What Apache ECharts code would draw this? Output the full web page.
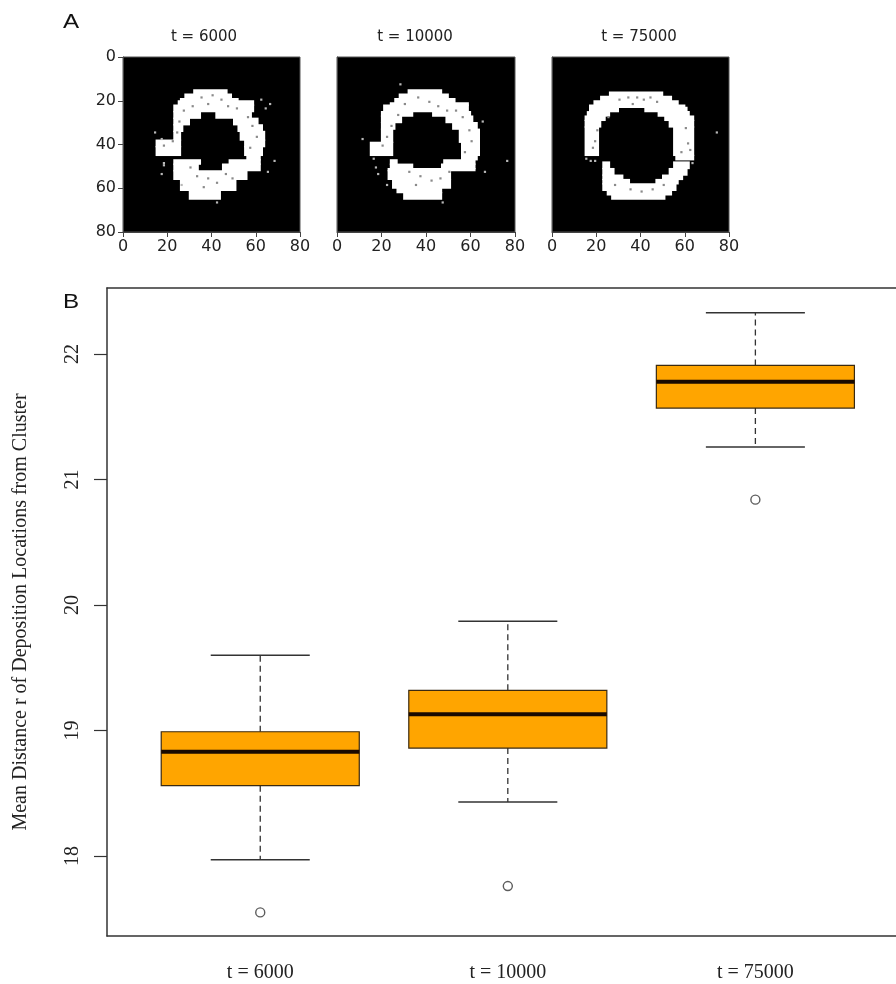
<!DOCTYPE html>
<html>
<head>
<meta charset="utf-8">
<script src="https://cdn.jsdelivr.net/npm/echarts@6/dist/echarts.min.js"></script>
<style>
html,body{margin:0;padding:0;background:#fff;}
#chart{width:896px;height:984px;}
</style>
</head>
<body>
<div id="chart"></div>
<script>
// ---------------- Panel B data ----------------
const categories = ['t = 6000', 't = 10000', 't = 75000'];
const boxPositions = [1, 2, 3];
const lowerWhisker = [17.97, 18.43, 21.26];
const q1 = [18.56, 18.86, 21.57];
const median = [18.83, 19.13, 21.78];
const q3 = [18.99, 19.32, 21.91];
const upperWhisker = [19.60, 19.87, 22.33];
const outliers = [17.55, 17.76, 20.84];
const yTicks = [18, 19, 20, 21, 22];
const yName = 'Mean Distance r of Deposition Locations from Cluster';

// ---------------- Panel A data ----------------
const panelTitles = ['t = 6000', 't = 10000', 't = 75000'];
const imageTicks = [0, 20, 40, 60, 80];
// white bands: [rowStart, rowEnd, [[colStart, colEnd], ...]]
const ring6000 = [
  [15, 17, [[32, 47]]],
  [17, 19, [[28, 49]]],
  [19, 20, [[26, 52]]],
  [20, 22, [[25, 59]]],
  [22, 25, [[23, 59]]],
  [25, 28, [[23, 35], [42, 58]]],
  [28, 31, [[23, 30], [50, 61]]],
  [31, 34, [[23, 27], [52, 63]]],
  [34, 38, [[23, 26], [53, 64]]],
  [38, 41, [[15, 26], [55, 64]]],
  [41, 45, [[15, 26], [55, 63]]],
  [45, 47, [[56, 62]]],
  [47, 49, [[23, 35], [48, 62]]],
  [49, 52, [[23, 34], [45, 62]]],
  [52, 56, [[23, 56]]],
  [56, 61, [[26, 51]]],
  [61, 65, [[30, 44]]]
];
const dark6000 = [[35,18],[40,17],[44,19],[38,21],[31,22],[27,24],[25,29],[24,34],[22,38],[18,40],[47,22],[51,23],[56,27],[58,31],[60,36],[57,41],[30,50],[33,54],[38,55],[42,57],[46,53],[49,55],[36,59]];
const light6000 = [[62,19],[64,23],[66,21],[14,34],[17,37],[18,48],[18,49],[17,53],[68,47],[42,66],[26,58],[65,52]];

const ring10000 = [
  [15, 17, [[32, 47]]],
  [17, 19, [[28, 50]]],
  [19, 21, [[26, 53]]],
  [21, 22, [[24, 59]]],
  [22, 25, [[21, 59]]],
  [25, 27, [[20, 34], [43, 60]]],
  [27, 30, [[20, 29], [49, 61]]],
  [30, 33, [[20, 26], [52, 63]]],
  [33, 39, [[20, 25], [55, 64]]],
  [39, 45, [[15, 25], [56, 64]]],
  [45, 47, [[56, 63]]],
  [47, 49, [[24, 27], [48, 62]]],
  [49, 51, [[24, 34], [47, 62]]],
  [51, 52, [[23, 62]]],
  [52, 56, [[23, 51]]],
  [56, 60, [[25, 51]]],
  [60, 62, [[27, 47]]],
  [62, 65, [[30, 47]]]
];
const dark10000 = [[36,18],[41,20],[45,22],[49,24],[30,21],[27,26],[24,31],[22,36],[20,40],[56,27],[59,33],[60,38],[57,43],[53,24],[32,52],[37,54],[42,56],[46,55],[50,52],[35,58]];
const light10000 = [[28,12],[11,37],[16,46],[17,50],[18,53],[22,58],[76,47],[47,66],[65,29],[66,52]];

const ring75000 = [
  [16, 18, [[26, 50]]],
  [18, 20, [[22, 54]]],
  [20, 22, [[19, 57]]],
  [22, 23, [[17, 60]]],
  [23, 25, [[17, 30], [42, 61]]],
  [25, 27, [[16, 26], [48, 62]]],
  [27, 29, [[15, 24], [51, 64]]],
  [29, 32, [[15, 22], [53, 64]]],
  [32, 45, [[15, 21], [55, 64]]],
  [45, 47, [[56, 64]]],
  [48, 51, [[23, 26], [55, 62]]],
  [51, 54, [[23, 28], [53, 61]]],
  [54, 56, [[23, 32], [50, 59]]],
  [56, 58, [[23, 35], [47, 57]]],
  [58, 61, [[23, 56]]],
  [61, 63, [[25, 54]]],
  [63, 65, [[27, 51]]]
];
const dark75000 = [[30,19],[34,18],[38,18],[41,19],[44,18],[47,20],[36,21],[25,27],[20,33],[19,38],[18,41],[60,32],[61,39],[58,43],[62,42],[28,58],[35,60],[40,61],[45,60],[50,58]];
const light75000 = [[15,46],[17,47],[19,47],[74,34],[63,48]];

// ---------------- build ----------------
function buildCells(bands, dark, light) {
  const out = [];
  bands.forEach(function (b) {
    b[2].forEach(function (iv) { out.push([iv[0], b[0], iv[1], b[1], 1]); });
  });
  light.forEach(function (p) { out.push([p[0], p[1], p[0] + 1, p[1] + 1, 2]); });
  dark.forEach(function (p) { out.push([p[0], p[1], p[0] + 1, p[1] + 1, 0]); });
  return out;
}
const imageData = [
  buildCells(ring6000, dark6000, light6000),
  buildCells(ring10000, dark10000, light10000),
  buildCells(ring75000, dark75000, light75000)
];

function cellRender(params, api) {
  const a = api.coord([api.value(0), api.value(1)]);
  const b = api.coord([api.value(2), api.value(3)]);
  const kind = api.value(4);
  const fill = kind === 1 ? '#ffffff' : (kind === 2 ? '#b8b8b8' : '#8a8a8a');
  const pad = kind === 1 ? 0.6 : 0;
  return {
    type: 'rect',
    shape: {
      x: Math.min(a[0], b[0]) - pad, y: Math.min(a[1], b[1]) - pad,
      width: Math.abs(b[0] - a[0]) + 2 * pad, height: Math.abs(b[1] - a[1]) + 2 * pad
    },
    style: { fill: fill }
  };
}

function boxRender(params, api) {
  const x = api.value(0), lo = api.value(1), a1 = api.value(2), md = api.value(3), a3 = api.value(4), hi = api.value(5);
  const c = function (u, v) { return api.coord([u, v]); };
  const hw = 0.4, sw = 0.2;
  const ln = function (p, q, style) { return { type: 'line', shape: { x1: p[0], y1: p[1], x2: q[0], y2: q[1] }, style: style }; };
  const whisk = { stroke: '#333', lineWidth: 1.3, lineDash: [6, 4] };
  const staple = { stroke: '#333', lineWidth: 1.5 };
  const tl = c(x - hw, a3), br = c(x + hw, a1);
  return {
    type: 'group',
    children: [
      ln(c(x, a3), c(x, hi), whisk),
      ln(c(x, a1), c(x, lo), whisk),
      ln(c(x - sw, hi), c(x + sw, hi), staple),
      ln(c(x - sw, lo), c(x + sw, lo), staple),
      { type: 'rect', shape: { x: tl[0], y: tl[1], width: br[0] - tl[0], height: br[1] - tl[1] }, style: { fill: '#FFA500', stroke: '#3b2a10', lineWidth: 1.2 } },
      ln(c(x - hw, md), c(x + hw, md), { stroke: '#1a0a00', lineWidth: 4 })
    ]
  };
}

const boxData = boxPositions.map(function (p, i) { return [p, lowerWhisker[i], q1[i], median[i], q3[i], upperWhisker[i]]; });
const outlierData = boxPositions.map(function (p, i) { return [p, outliers[i]]; });

const imgGrids = [
  { left: 123, top: 57, width: 177, height: 175 },
  { left: 337, top: 57, width: 178, height: 175 },
  { left: 552, top: 57, width: 177, height: 175 }
];
const grids = imgGrids.map(function (g) {
  return Object.assign({ show: true, backgroundColor: '#000', borderColor: '#555', borderWidth: 1 }, g);
});
grids.push({ left: 107, top: 288, right: 0, height: 648, show: false });

const sansTick = { fontFamily: 'DejaVu Sans', fontSize: 16, color: '#222' };
const xAxes = [], yAxes = [], series = [];
for (let i = 0; i < 3; i++) {
  xAxes.push({
    gridIndex: i, type: 'value', min: imageTicks[0], max: imageTicks[imageTicks.length - 1], interval: 20,
    position: 'bottom',
    axisLine: { show: true, onZero: false, lineStyle: { color: '#444', width: 1 } },
    axisTick: { show: true, length: 5, lineStyle: { color: '#444' } },
    splitLine: { show: false },
    axisLabel: Object.assign({ margin: 7 }, sansTick)
  });
  yAxes.push({
    gridIndex: i, type: 'value', min: imageTicks[0], max: imageTicks[imageTicks.length - 1], interval: 20,
    inverse: true,
    axisLine: { show: true, onZero: false, lineStyle: { color: '#444', width: 1 } },
    axisTick: { show: i === 0, length: 5, lineStyle: { color: '#444' } },
    splitLine: { show: false },
    axisLabel: Object.assign({ show: i === 0, margin: 7 }, sansTick)
  });
  series.push({
    type: 'custom', xAxisIndex: i, yAxisIndex: i, renderItem: cellRender,
    encode: { x: [0, 2], y: [1, 3] }, data: imageData[i], silent: true, clip: true, animation: false
  });
}
const serif = 'Liberation Serif';
xAxes.push({
  gridIndex: 3, type: 'value', min: 0.381, max: 3.568, position: 'bottom',
  axisLine: { show: true, onZero: false, lineStyle: { color: '#333', width: 1.5 } },
  axisTick: { show: false },
  splitLine: { show: false },
  axisLabel: {
    customValues: boxPositions, margin: 27, fontFamily: serif, fontSize: 20, color: '#222',
    formatter: function (v) { return categories[boxPositions.indexOf(v)]; }
  }
});
xAxes.push({
  gridIndex: 3, type: 'value', min: 0.381, max: 3.568, position: 'top',
  axisLine: { show: true, onZero: false, lineStyle: { color: '#333', width: 1.5 } },
  axisTick: { show: false }, axisLabel: { show: false }, splitLine: { show: false }
});
yAxes.push({
  gridIndex: 3, type: 'value', min: 17.362, max: 22.527,
  axisLine: { show: true, onZero: false, lineStyle: { color: '#333', width: 1.5 } },
  axisTick: { show: true, customValues: yTicks, length: 13, lineStyle: { color: '#333', width: 1.2 } },
  splitLine: { show: false },
  axisLabel: { customValues: yTicks, rotate: 90, margin: 24, fontFamily: serif, fontSize: 20, color: '#222' },
  name: yName, nameLocation: 'middle', nameRotate: 90, nameGap: 76,
  nameTextStyle: { fontFamily: serif, fontSize: 20, color: '#222' }
});
series.push({
  type: 'custom', xAxisIndex: 3, yAxisIndex: 3, renderItem: boxRender,
  encode: { x: 0, y: [1, 2, 3, 4, 5] }, data: boxData, silent: true, animation: false
});
series.push({
  type: 'scatter', xAxisIndex: 3, yAxisIndex: 3, data: outlierData,
  symbol: 'circle', symbolSize: 9,
  itemStyle: { color: '#fff', borderColor: '#333', borderWidth: 1.4 },
  silent: true, animation: false
});

const titleCenters = [204, 415, 639];
const graphics = [
  { type: 'text', x: 71, y: 22, scaleX: 1.15, style: { text: 'A', font: '21px "Liberation Sans"', fill: '#111', align: 'center', verticalAlign: 'middle', textAlign: 'center', textVerticalAlign: 'middle' } },
  { type: 'text', x: 71, y: 302, scaleX: 1.15, style: { text: 'B', font: '21px "Liberation Sans"', fill: '#111', align: 'center', verticalAlign: 'middle', textAlign: 'center', textVerticalAlign: 'middle' } }
];
panelTitles.forEach(function (t, i) {
  graphics.push({ type: 'text', x: titleCenters[i], y: 37, style: { text: t, font: '15px "DejaVu Sans"', fill: '#222', align: 'center', verticalAlign: 'middle', textAlign: 'center', textVerticalAlign: 'middle' } });
});

const chart = echarts.init(document.getElementById('chart'), null, { renderer: 'canvas' });
chart.setOption({
  backgroundColor: '#fff',
  animation: false,
  grid: grids,
  xAxis: xAxes,
  yAxis: yAxes,
  series: series,
  graphic: graphics
});
</script>
</body>
</html>
